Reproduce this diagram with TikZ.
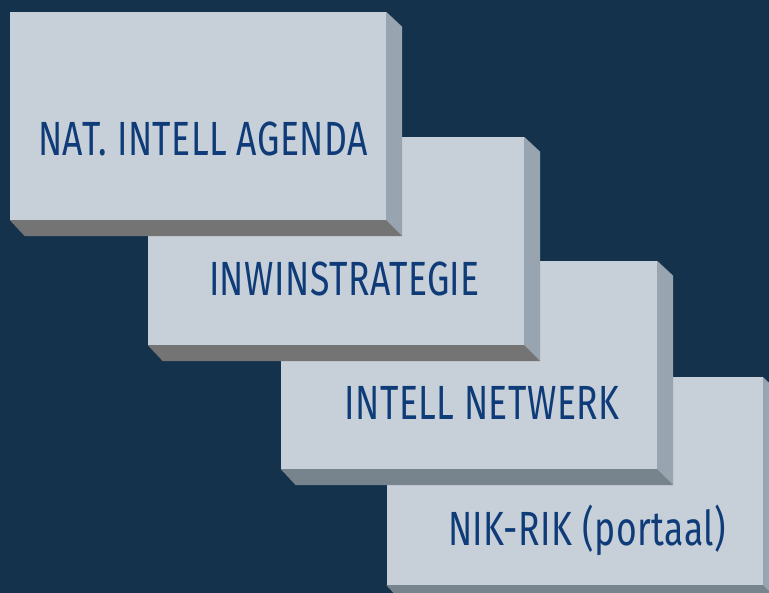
\documentclass[tikz,border=0pt]{standalone}
\usepackage{fontspec}
\newfontfamily\condfont[FakeStretch=0.74,LetterSpace=1]{Fira Sans}
\definecolor{bgnavy}{HTML}{14324C}
\definecolor{facecol}{HTML}{C7CFD9}
\definecolor{sidecol}{HTML}{98A4B0}
\definecolor{botgray}{HTML}{747474}
\definecolor{botblue}{HTML}{77838D}
\definecolor{txtblue}{HTML}{0F3C78}
\begin{document}
\begin{tikzpicture}[x=1pt,y=-1pt,
  facebox/.style={rectangle,fill=facecol,draw=none,minimum width=376pt,minimum height=208pt,inner sep=0pt},
  sideface/.style={fill=sidecol},
  boxlabel/.style={anchor=base,text=txtblue,inner sep=0pt,font=\condfont\fontsize{48}{50}\selectfont}]
\fill[bgnavy] (0,0) rectangle (769,593);
\useasboundingbox (0,0) rectangle (769,593);
\clip (0,0) rectangle (769,593);
% box 4
\node[facebox] (b4) at (574.5,481) {};
\fill[sideface] (b4.north east) -- ++(16,15) -- ([shift={(16,16)}]b4.south east) -- (b4.south east) -- cycle;
\fill[botblue] (b4.south west) -- ++(15,16) -- ([shift={(16,16)}]b4.south east) -- (b4.south east) -- cycle;
\node[facebox] at (b4.center) {};
\node[boxlabel] (t4) at (587,545) {NIK-RIK (portaal)};
% box 3
\node[facebox] (b3) at (469,365) {};
\fill[sideface] (b3.north east) -- ++(16,15) -- ([shift={(16,16)}]b3.south east) -- (b3.south east) -- cycle;
\fill[botblue] (b3.south west) -- ++(15,16) -- ([shift={(16,16)}]b3.south east) -- (b3.south east) -- cycle;
\node[facebox] at (b3.center) {};
\node[boxlabel] (t3) at (482,420) {INTELL NETWERK};
% box 2
\node[facebox] (b2) at (336,241) {};
\fill[sideface] (b2.north east) -- ++(16,15) -- ([shift={(16,16)}]b2.south east) -- (b2.south east) -- cycle;
\fill[botgray] (b2.south west) -- ++(15,16) -- ([shift={(16,16)}]b2.south east) -- (b2.south east) -- cycle;
\node[facebox] at (b2.center) {};
\node[boxlabel] (t2) at (344.5,296) {INWINSTRATEGIE};
% box 1
\node[facebox] (b1) at (198,116) {};
\fill[sideface] (b1.north east) -- ++(16,15) -- ([shift={(16,16)}]b1.south east) -- (b1.south east) -- cycle;
\fill[botgray] (b1.south west) -- ++(15,16) -- ([shift={(16,16)}]b1.south east) -- (b1.south east) -- cycle;
\node[facebox] at (b1.center) {};
\node[boxlabel] (t1) at (203,156) {NAT. INTELL AGENDA};
\end{tikzpicture}
\end{document}
